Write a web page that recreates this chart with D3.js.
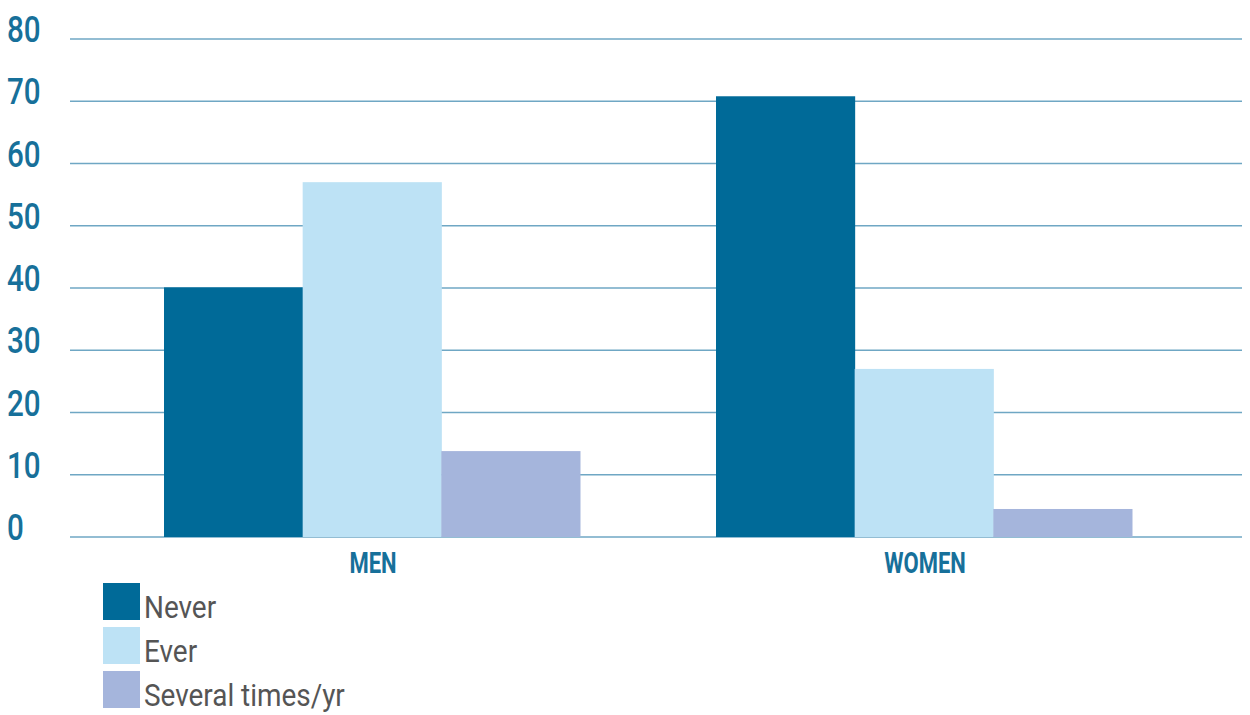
<!DOCTYPE html>
<html>
<head>
<meta charset="utf-8">
<script src="https://cdn.jsdelivr.net/npm/d3@7"></script>
<style>
  body { margin: 0; background: #fff; }
  svg { display: block; }
</style>
</head>
<body>
<svg width="1250" height="715"></svg>
<script>
// groups and series
var groups = ["MEN", "WOMEN"];
var seriesNames = ["Never", "Ever", "Several times/yr"];
var menValues = [40.1, 57, 13.8];
var womenValues = [70.8, 27, 4.5];
var yTicks = [0, 10, 20, 30, 40, 50, 60, 70, 80];
var colors = ["#006a98", "#bde2f5", "#a5b5dc"];

var svg = d3.select("svg");
var font = "Roboto, 'Liberation Sans', sans-serif";

var y = d3.scaleLinear().domain([0, 80]).range([537, 39]);
var x0 = d3.scaleBand().domain(groups).range([96, 1200]).paddingInner(0).paddingOuter(0);
var x1 = d3.scaleBand().domain(seriesNames).range([0, 416]);
var groupOffset = (x0.bandwidth() - 416) / 2;

var data = groups.map(function(g, i) {
    var vals = i === 0 ? menValues : womenValues;
    return { group: g, values: seriesNames.map(function(s, j) { return { name: s, value: vals[j], color: colors[j] }; }) };
});

// gridlines
svg.append("g")
    .attr("class", "grid")
    .selectAll("line")
    .data(yTicks)
    .enter().append("line")
    .attr("x1", 70)
    .attr("x2", 1242)
    .attr("y1", function(d) { return y(d); })
    .attr("y2", function(d) { return y(d); })
    .attr("stroke", "#6fa7c4")
    .attr("stroke-width", 1.5);

// tick labels (condensed look via horizontal squeeze)
svg.append("g")
    .selectAll("text")
    .data(yTicks)
    .enter().append("text")
    .attr("transform", function(d) { return "translate(7," + (y(d) + 3) + ") scale(0.8,1)"; })
    .attr("fill", "#17709a")
    .style("font-family", font)
    .style("font-weight", 500)
    .style("font-size", "37px")
    .text(function(d) { return d; });

// bars
var grp = svg.append("g")
    .selectAll("g")
    .data(data)
    .enter().append("g")
    .attr("transform", function(d) { return "translate(" + (x0(d.group) + groupOffset) + ",0)"; });

grp.selectAll("rect")
    .data(function(d) { return d.values; })
    .enter().append("rect")
    .attr("x", function(d) { return x1(d.name); })
    .attr("width", x1.bandwidth() + 0.5)
    .attr("y", function(d) { return y(d.value); })
    .attr("height", function(d) { return y(0) - y(d.value); })
    .attr("fill", function(d) { return d.color; });

// group labels
svg.append("g")
    .selectAll("text")
    .data(groups)
    .enter().append("text")
    .attr("transform", function(d) { return "translate(" + (x0(d) + x0.bandwidth() / 2 + 1) + ",573) scale(0.76,1)"; })
    .attr("text-anchor", "middle")
    .attr("fill", "#17709a")
    .style("font-family", font)
    .style("font-weight", "bold")
    .style("font-size", "29px")
    .text(function(d) { return d; });

// legend
var legend = svg.append("g")
    .selectAll("g")
    .data(seriesNames)
    .enter().append("g")
    .attr("transform", function(d, i) { return "translate(103," + (583 + i * 44) + ")"; });

legend.append("rect")
    .attr("width", 37)
    .attr("height", 37)
    .attr("fill", function(d, i) { return colors[i]; });

legend.append("text")
    .attr("transform", "translate(41,35) scale(0.9,1)")
    .attr("fill", "#555")
    .style("font-family", font)
    .style("font-size", "31px")
    .text(function(d) { return d; });
</script>
</body>
</html>
